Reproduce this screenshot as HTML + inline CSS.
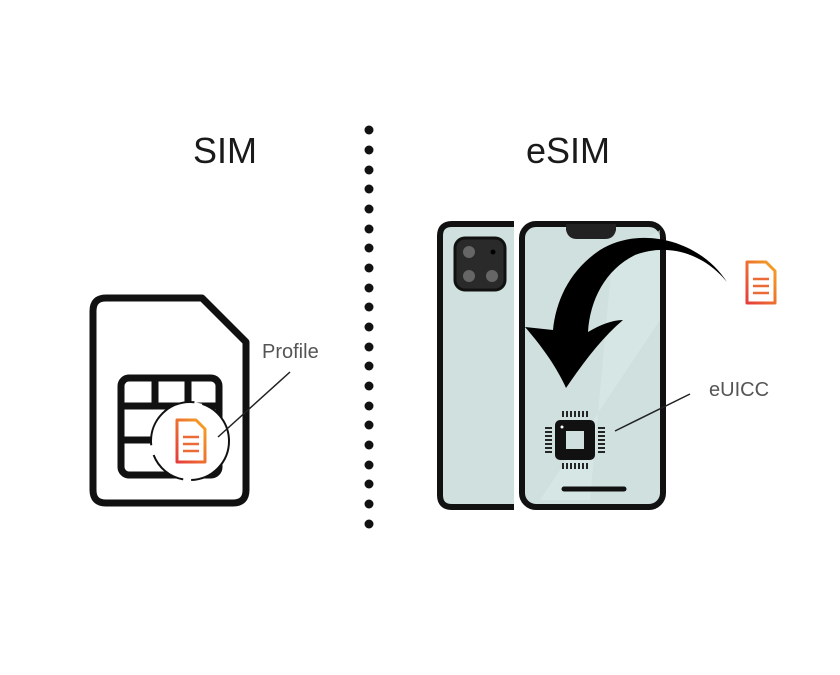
<!DOCTYPE html>
<html><head><style>body{margin:0;background:#fff}svg{display:block}</style></head><body>
<svg width="840" height="675" viewBox="0 0 840 675" xmlns="http://www.w3.org/2000/svg">
<defs>
<linearGradient id="g" x1="0" y1="1" x2="1" y2="0"><stop offset="0" stop-color="#e53c3c"/><stop offset="1" stop-color="#f5a623"/></linearGradient>
</defs>
<text x="225" y="163" font-family="Liberation Sans, sans-serif" font-size="36" text-anchor="middle" fill="#1a1a1a">SIM</text>
<text x="568" y="163" font-family="Liberation Sans, sans-serif" font-size="36" text-anchor="middle" fill="#1a1a1a">eSIM</text>
<g fill="#111">
<circle cx="369" cy="130" r="4.5"/><circle cx="369" cy="150" r="4.5"/><circle cx="369" cy="170" r="4.5"/><circle cx="369" cy="189" r="4.5"/><circle cx="369" cy="209" r="4.5"/><circle cx="369" cy="229" r="4.5"/><circle cx="369" cy="248" r="4.5"/><circle cx="369" cy="268" r="4.5"/><circle cx="369" cy="288" r="4.5"/><circle cx="369" cy="307" r="4.5"/><circle cx="369" cy="327" r="4.5"/><circle cx="369" cy="347" r="4.5"/><circle cx="369" cy="366" r="4.5"/><circle cx="369" cy="386" r="4.5"/><circle cx="369" cy="406" r="4.5"/><circle cx="369" cy="425" r="4.5"/><circle cx="369" cy="445" r="4.5"/><circle cx="369" cy="465" r="4.5"/><circle cx="369" cy="484" r="4.5"/><circle cx="369" cy="504" r="4.5"/><circle cx="369" cy="524" r="4.5"/>
</g>
<!-- SIM -->
<path d="M106,298 L202,298 L246,342 L246,490 Q246,503 233,503 L106,503 Q93,503 93,490 L93,311 Q93,298 106,298 Z" fill="#fff" stroke="#111" stroke-width="7" stroke-linejoin="round"/>
<rect x="121" y="378" width="98" height="97" rx="8" fill="none" stroke="#111" stroke-width="7"/>
<g stroke="#111" stroke-width="7"><line x1="121" y1="406" x2="219" y2="406"/><line x1="155" y1="378" x2="155" y2="406"/><line x1="188" y1="378" x2="188" y2="406"/><line x1="121" y1="440" x2="160" y2="440"/></g>
<circle cx="190" cy="441" r="39" fill="#fff" stroke="#111" stroke-width="2" stroke-dasharray="60 8 40 10 70 8 50 6"/>
<g transform="translate(175,420)"><path d="M2,0 H21 L30,9 V42 H2 Z" fill="none" stroke="url(#g)" stroke-width="3" stroke-linejoin="round"/><g stroke="#ec6a35" stroke-width="2.5"><line x1="8" y1="17" x2="24" y2="17"/><line x1="8" y1="24" x2="24" y2="24"/><line x1="8" y1="31" x2="24" y2="31"/></g></g>
<text x="262" y="358" font-family="Liberation Sans, sans-serif" font-size="20" fill="#555">Profile</text>
<line x1="290" y1="372" x2="218" y2="437" stroke="#222" stroke-width="1.5"/>
<!-- phone back -->
<path d="M514,224 L452,224 Q440,224 440,236 L440,495 Q440,507 452,507 L514,507" fill="#cfe0de" stroke="#111" stroke-width="6"/>
<rect x="455" y="238" width="50" height="52" rx="10" fill="#2a2a2a" stroke="#111" stroke-width="3"/>
<g fill="#666"><circle cx="469" cy="252" r="6"/><circle cx="469" cy="276" r="6"/><circle cx="492" cy="276" r="6"/></g><circle cx="493" cy="252" r="2.5" fill="#000"/>
<!-- phone front -->
<rect x="522" y="224" width="141" height="283" rx="14" fill="#cfe0de" stroke="#111" stroke-width="6"/>
<path d="M612,260 L660,230 L660,320 L540,500 L590,500 Z" fill="#dbe9e7" opacity="0.6"/>
<path d="M566,224 L616,224 L616,230 Q614,239 605,239 L577,239 Q568,239 566,230 Z" fill="#222"/>
<line x1="564" y1="489" x2="624" y2="489" stroke="#111" stroke-width="5" stroke-linecap="round"/>
<!-- chip -->
<rect x="555" y="420" width="40" height="40" rx="5" fill="#111"/>
<rect x="566" y="431" width="18" height="18" fill="#cfe0de"/>
<circle cx="562" cy="427" r="1.5" fill="#fff"/>
<g stroke="#111" stroke-width="1.8">
<line x1="563" y1="411" x2="563" y2="417"/><line x1="567" y1="411" x2="567" y2="417"/><line x1="571" y1="411" x2="571" y2="417"/><line x1="575" y1="411" x2="575" y2="417"/><line x1="579" y1="411" x2="579" y2="417"/><line x1="583" y1="411" x2="583" y2="417"/><line x1="587" y1="411" x2="587" y2="417"/>
<line x1="563" y1="463" x2="563" y2="469"/><line x1="567" y1="463" x2="567" y2="469"/><line x1="571" y1="463" x2="571" y2="469"/><line x1="575" y1="463" x2="575" y2="469"/><line x1="579" y1="463" x2="579" y2="469"/><line x1="583" y1="463" x2="583" y2="469"/><line x1="587" y1="463" x2="587" y2="469"/>
<line x1="545" y1="428" x2="552" y2="428"/><line x1="545" y1="432" x2="552" y2="432"/><line x1="545" y1="436" x2="552" y2="436"/><line x1="545" y1="440" x2="552" y2="440"/><line x1="545" y1="444" x2="552" y2="444"/><line x1="545" y1="448" x2="552" y2="448"/><line x1="545" y1="452" x2="552" y2="452"/>
<line x1="598" y1="428" x2="605" y2="428"/><line x1="598" y1="432" x2="605" y2="432"/><line x1="598" y1="436" x2="605" y2="436"/><line x1="598" y1="440" x2="605" y2="440"/><line x1="598" y1="444" x2="605" y2="444"/><line x1="598" y1="448" x2="605" y2="448"/><line x1="598" y1="452" x2="605" y2="452"/>
</g>
<!-- arrow -->
<path d="M727,282 C700,240 640,225 600,250 C570,270 556,300 553,330 L525,327 C545,350 558,370 566,388 C585,360 603,337 623,320 C612,320 600,325 588,332 C590,300 605,270 635,255 C670,242 705,255 727,282 Z" fill="#000"/>
<g transform="translate(745,262)"><path d="M2,0 H21 L30,9 V41 H2 Z" fill="none" stroke="url(#g)" stroke-width="3" stroke-linejoin="round"/><g stroke="#ec6a35" stroke-width="2.5"><line x1="8" y1="17" x2="24" y2="17"/><line x1="8" y1="24" x2="24" y2="24"/><line x1="8" y1="31" x2="24" y2="31"/></g></g>
<text x="709" y="396" font-family="Liberation Sans, sans-serif" font-size="20" fill="#555">eUICC</text>
<line x1="690" y1="394" x2="615" y2="431" stroke="#222" stroke-width="1.5"/>
</svg>
</body></html>
